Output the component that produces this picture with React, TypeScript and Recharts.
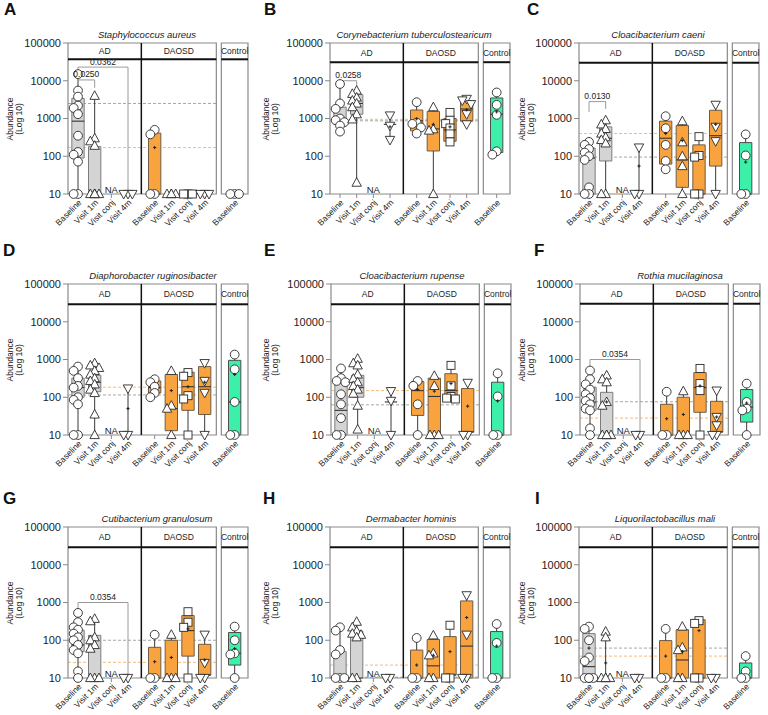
import React from 'react';
import { ComposedChart, XAxis, YAxis, Scatter, ReferenceArea, ReferenceLine } from 'recharts';

const FONT = '"Liberation Sans", Arial, Helvetica, sans-serif';

// ---------- labels ----------
const categories = ['Baseline', 'Visit 1m', 'Visit conj', 'Visit 4m', 'Baseline', 'Visit 1m', 'Visit conj', 'Visit 4m', 'Baseline'];
const groupLabels = ['AD', 'DAOSD', 'Control'];
const groupLabelsC = ['AD', 'DOASD', 'Control'];
const yTicks = [10, 100, 1000, 10000, 100000];
const letters = ['A', 'B', 'C', 'D', 'E', 'F', 'G', 'H', 'I'];
const titles = [
  'Staphylococcus aureus',
  'Corynebacterium tuberculostearicum',
  'Cloacibacterium caeni',
  'Diaphorobacter ruginosibacter',
  'Cloacibacterium rupense',
  'Rothia mucilaginosa',
  'Cutibacterium granulosum',
  'Dermabacter hominis',
  'Liquorilactobacillus mali',
];
const naLabel = 'NA';
const yLabel1 = 'Abundance';
const yLabel2 = '(Log 10)';

type Box = [number, number | null, number | null, number | null, number] | null;
type Bracket = [number, number, number, number, number, string];

// ---------- panel A ----------
const ptsA: number[][] = [
  [15000, 5500, 3800, 2200, 1900, 1300, 350, 130, 110, 72, 10, 10],
  [4000, 300, 250, 190, 10, 10, 10, 10, 10],
  [],
  [10, 10, 10],
  [500, 380, 10, 10],
  [10, 10, 10, 10],
  [10, 10, 10],
  [10, 10, 10],
  [10, 10, 10],
];
const boxA: Box[] = [
  [10, 90, 850, 3400, 15000],
  [10, 10, 10, 180, 4000],
  null, null,
  [10, 10, 10, 410, 500],
  null, null, null, null,
];
const meanA = [null, null, null, null, 170, null, null, null, null];
const refA = [2500, 170];
const brkA: Bracket[] = [[0, 1, 10500, 10500, 6500, '0.0250'], [0, 3, 23000, 16000, 11, '0.0362']];

// ---------- panel B ----------
const ptsB: number[][] = [
  [8200, 2500, 1800, 1000, 900, 800, 650, 450],
  [5500, 4500, 3600, 3000, 2500, 2000, 1300, 950, 20],
  [],
  [1200, 640, 270],
  [2700, 780, 720, 580, 400],
  [2000, 520, 480, 10],
  [1450, 900, 730, 560, 390, 240],
  [3300, 3000, 2400, 1300, 700],
  [4900, 2300, 1250, 135, 110],
];
const boxB: Box[] = [
  [450, 700, 1000, 2000, 8200],
  [20, 1300, 2500, 4300, 5500],
  null,
  [270, null, 700, null, 1200],
  [400, 470, 870, 1680, 2700],
  [10, 138, 530, 1540, 2000],
  [240, 250, 500, 1000, 1450],
  [700, 850, 1780, 2950, 3300],
  [110, 125, 1300, 3500, 4900],
];
const meanB = [null, null, null, 600, 980, 700, 600, 1700, 1500];
const refB = [870, 950];
const brkB: Bracket[] = [[0, 1, 10000, 8500, 6500, '0.0258']];

// ---------- panel C ----------
const ptsC: number[][] = [
  [240, 200, 155, 125, 100, 80, 15, 10, 10],
  [900, 700, 530, 400, 320, 270, 220, 10, 10],
  [],
  [170, 10, 10],
  [1150, 550, 200, 75, 45],
  [850, 235, 100, 55, 10],
  [330, 105, 95, 10, 10],
  [2300, 600, 250, 10],
  [380, 105, 10, 10],
];
const boxC: Box[] = [
  [10, 10, 90, 165, 240],
  [10, 75, 300, 600, 900],
  null,
  [10, null, null, null, 170],
  [45, 62, 300, 850, 1150],
  [10, 15, 80, 650, 850],
  [10, 10, 10, 200, 330],
  [10, 55, 350, 1650, 2300],
  [10, 10, 10, 230, 380],
];
const meanC = [null, null, null, 55, 400, 260, null, 700, 70];
const refC = [95, 400];
const brkC: Bracket[] = [[0, 1, 2800, 1500, 1800, '0.0130']];

// ---------- panel D ----------
const ptsD: number[][] = [
  [650, 500, 320, 200, 180, 100, 85, 65, 10, 10],
  [800, 700, 600, 500, 400, 320, 270, 220, 160, 130, 35, 10],
  [],
  [170, 10, 10],
  [300, 250, 190, 130, 100],
  [500, 60, 50, 10],
  [450, 360, 110, 90, 10],
  [800, 270, 130, 10],
  [1350, 550, 75, 10, 10],
];
const boxD: Box[] = [
  [10, 100, 180, 320, 650],
  [10, 140, 250, 380, 800],
  null,
  [10, null, null, null, 170],
  [100, 130, 180, 270, 300],
  [10, 13, 50, 400, 500],
  [10, 45, 190, 460, 460],
  [10, 35, 190, 650, 800],
  [10, 10, 75, 950, 1350],
];
const meanD = [null, null, null, 50, null, 150, 190, 250, 400];
const refD = [115, 185];
const brkD: Bracket[] = [];

// ---------- panel E ----------
const ptsE: number[][] = [
  [580, 320, 270, 250, 120, 65, 28, 10, 10],
  [1050, 800, 700, 400, 310, 250, 200, 160, 125, 60, 14],
  [],
  [145, 80, 10],
  [270, 200, 65, 10],
  [370, 200, 10, 10, 10],
  [700, 200, 105, 95, 90],
  [240, 10, 10],
  [430, 105, 10, 10],
];
const boxE: Box[] = [
  [10, 10, 45, 260, 580],
  [14, 100, 180, 380, 1050],
  null,
  [10, null, 75, null, 145],
  [10, 33, 150, 260, 270],
  [10, 10, 105, 320, 370],
  [90, 90, 150, 420, 700],
  [10, 12, 12, 170, 240],
  [10, 10, 10, 250, 430],
];
const meanE = [null, null, null, null, 160, 145, 230, 58, 80];
const refE = [63, 150];
const brkE: Bracket[] = [];

// ---------- panel F ----------
const ptsF: number[][] = [
  [510, 300, 220, 160, 120, 95, 80, 65, 50, 45, 15, 10],
  [380, 300, 250, 75, 60, 10, 10, 10, 10],
  [],
  [10, 10],
  [140, 10, 10],
  [145, 10, 10, 10],
  [580, 230, 150, 10],
  [150, 30, 18, 10, 10],
  [230, 75, 50, 45, 10],
];
const boxF: Box[] = [
  [10, 45, 75, 185, 510],
  [10, 10, 10, 135, 380],
  null, null,
  [10, 10, 10, 65, 140],
  [10, 10, 10, 100, 145],
  [10, 40, 180, 450, 580],
  [10, 12, 12, 78, 150],
  [10, 22, 55, 160, 230],
];
const meanF = [null, 75, null, null, 27, 35, 200, 30, 70];
const refF = [76, 28];
const brkF: Bracket[] = [[0, 3, 1000, 650, 12, '0.0354']];

// ---------- panel G ----------
const ptsG: number[][] = [
  [530, 300, 220, 190, 150, 120, 100, 75, 55, 45, 15, 10],
  [370, 320, 120, 100, 75, 60, 10, 10, 10],
  [],
  [10, 10],
  [140, 10, 10],
  [140, 10, 10, 10],
  [570, 300, 220, 10],
  [140, 25, 10, 10],
  [230, 100, 45, 42, 10],
];
const boxG: Box[] = [
  [10, 50, 75, 185, 530],
  [10, 10, 10, 135, 370],
  null, null,
  [10, 10, 10, 65, 140],
  [10, 10, 10, 100, 140],
  [10, 38, 180, 450, 570],
  [10, 12, 12, 78, 140],
  [10, 22, 45, 160, 230],
];
const meanG = [null, null, null, null, 27, 35, 200, 30, 60];
const refG = [100, 26];
const brkG: Bracket[] = [[0, 3, 1000, 600, 12, '0.0354']];

// ---------- panel H ----------
const ptsH: number[][] = [
  [220, 180, 55, 42, 10, 10, 10],
  [310, 220, 175, 150, 140, 120, 10, 10],
  [],
  [10, 10],
  [115, 10, 10],
  [135, 45, 40, 10, 10],
  [250, 10, 10],
  [1550, 140, 10, 10],
  [270, 85, 10, 10],
];
const boxH: Box[] = [
  [10, 10, 10, 50, 220],
  [10, 10, 10, 175, 310],
  null, null,
  [10, 10, 10, 55, 115],
  [10, 10, 21, 105, 135],
  [10, 12, 12, 125, 250],
  [10, 10, 70, 1100, 1550],
  [10, 10, 10, 170, 270],
];
const meanH = [null, null, null, null, 22, 40, 50, 400, 70];
const refH = [10.5, 22];
const brkH: Bracket[] = [];

// ---------- panel I ----------
const ptsI: number[][] = [
  [230, 200, 100, 35, 28, 10, 10, 10, 10],
  [170, 120, 10, 10, 10, 10],
  [],
  [10, 10],
  [200, 10, 10],
  [230, 65, 55, 10, 10],
  [330, 280, 10, 10],
  [10, 10],
  [38, 15, 10, 10],
];
const boxI: Box[] = [
  [10, 10, 20, 150, 230],
  [10, null, null, null, 170],
  null, null,
  [10, 10, 10, 98, 200],
  [10, 10, 30, 190, 230],
  [10, 10, 10, 350, 350],
  null,
  [10, 10, 10, 25, 38],
];
const meanI = [62, 25, null, null, 38, 50, 180, null, null];
const refI = [62, 38];
const brkI: Bracket[] = [];

const panels = [
  { pts: ptsA, box: boxA, mean: meanA, ref: refA, brk: brkA },
  { pts: ptsB, box: boxB, mean: meanB, ref: refB, brk: brkB },
  { pts: ptsC, box: boxC, mean: meanC, ref: refC, brk: brkC },
  { pts: ptsD, box: boxD, mean: meanD, ref: refD, brk: brkD },
  { pts: ptsE, box: boxE, mean: meanE, ref: refE, brk: brkE },
  { pts: ptsF, box: boxF, mean: meanF, ref: refF, brk: brkF },
  { pts: ptsG, box: boxG, mean: meanG, ref: refG, brk: brkG },
  { pts: ptsH, box: boxH, mean: meanH, ref: refH, brk: brkH },
  { pts: ptsI, box: boxI, mean: meanI, ref: refI, brk: brkI },
];

// ---------- layout (positions / styles) ----------
const catX = [0.6, 1.6, 2.6, 3.6, 5.2, 6.2, 7.2, 8.2, 10.0];
const X_MAX = 10.8;
const AD_RIGHT = 4.4;
const DA_RIGHT = 8.9;
const CTRL_LEFT = 9.2;
const BOX_HALF = 0.37;
const PLOT_W = 180;
const PLOT_H = 151;
const CHART_H = 240;
const XAXIS_H = 36;
const rowTop = [0, 240, 475];
const rowPlotTop = [43, 44, 52];
const rowTitleY = [34, 275, 518];
const rowLetterY = [1, 242, 490];
const layout = [
  { col: 0, row: 0, left: 68, titleCx: 147, strip: 37000, letterX: 4 },
  { col: 1, row: 0, left: 74, titleCx: 158, strip: 31000, letterX: 8 },
  { col: 2, row: 0, left: 67, titleCx: 146, strip: 30000, letterX: 15 },
  { col: 0, row: 1, left: 68, titleCx: 153, strip: 29000, letterX: 3 },
  { col: 1, row: 1, left: 75, titleCx: 156, strip: 29000, letterX: 8 },
  { col: 2, row: 1, left: 68, titleCx: 168, strip: 30000, letterX: 22 },
  { col: 0, row: 2, left: 68, titleCx: 157, strip: 29000, letterX: 3 },
  { col: 1, row: 2, left: 74, titleCx: 155, strip: 29000, letterX: 7 },
  { col: 2, row: 2, left: 67, titleCx: 153, strip: 29000, letterX: 23 },
];
const fills = ['#d4d4d4', '#f9a33f', '#3df0a9'];
const strokes = ['#7c7c7c', '#6e5b45', '#4d4d4d'];
const groupOf = (i: number) => (i < 4 ? 0 : i < 8 ? 1 : 2);
const shapeOf = ['circle', 'up', 'square', 'down', 'circle', 'up', 'square', 'down', 'circle'];

// beeswarm-like horizontal spread (layout only)
function spread(values: number[]): number[] {
  const placed: { lv: number; dx: number }[] = [];
  const cands = [0, -0.26, 0.26, -0.13, 0.13, -0.39, 0.39];
  return values.map((v) => {
    const lv = Math.log10(v);
    for (const dx of cands) {
      if (placed.every((p) => Math.abs(p.lv - lv) > 0.15 || Math.abs(p.dx - dx) > 0.24)) {
        placed.push({ lv, dx });
        return dx;
      }
    }
    placed.push({ lv, dx: 0 });
    return 0;
  });
}

const PT_STROKE = '#2a2a2a';
function makeShape(kind: string) {
  return (p: any) => {
    const { cx, cy } = p;
    if (cx == null || cy == null) return <g />;
    if (kind === 'circle') return <circle cx={cx} cy={cy} r={4.4} fill="#fff" stroke={PT_STROKE} strokeWidth={0.9} />;
    if (kind === 'square') return <rect x={cx - 4} y={cy - 4} width={8} height={8} fill="#fff" stroke={PT_STROKE} strokeWidth={0.9} />;
    if (kind === 'up')
      return <polygon points={`${cx},${cy - 5} ${cx - 4.7},${cy + 3.6} ${cx + 4.7},${cy + 3.6}`} fill="#fff" stroke={PT_STROKE} strokeWidth={0.9} />;
    return <polygon points={`${cx},${cy + 5} ${cx - 4.7},${cy - 3.6} ${cx + 4.7},${cy - 3.6}`} fill="#fff" stroke={PT_STROKE} strokeWidth={0.9} />;
  };
}
const meanShape = (p: any) => (
  <path d={`M${p.cx - 1.6},${p.cy}h3.2M${p.cx},${p.cy - 1.6}v3.2`} stroke="#222" strokeWidth={1} />
);
const textShape = (size: number, dy: number) => (p: any) => (
  <text x={p.cx} y={p.cy + dy} textAnchor="middle" fontSize={size} fontFamily={FONT} fill="#222" stroke="none">
    {p.payload.label}
  </text>
);

const XTick = (props: any) => {
  const { x, y, payload } = props;
  const idx = catX.indexOf(payload.value);
  const label = idx >= 0 ? categories[idx] : '';
  return (
    <g transform={`translate(${x + 2},${y + 1}) rotate(-45)`}>
      <text x={0} y={0} dy="0.35em" textAnchor="end" fontSize={8.5} fontFamily={FONT} fill="#222">
        {label}
      </text>
    </g>
  );
};

function Panel({ idx }: { idx: number }) {
  const cfg = layout[idx];
  const d = panels[idx];
  const T = rowPlotTop[cfg.row];
  const L = cfg.left;
  const glabels = idx === 2 ? groupLabelsC : groupLabels;
  const strip = cfg.strip;
  const lab = { fontSize: 8.5, fill: '#222', fontFamily: FONT } as any;

  const areas: React.ReactNode[] = [];
  const lines: React.ReactNode[] = [];

  // strips
  areas.push(
    <ReferenceArea key="sAD" x1={0} x2={AD_RIGHT} y1={strip} y2={100000} fill="#fff" fillOpacity={1} stroke="none" ifOverflow="visible" zIndex={100}
      label={{ value: glabels[0], position: 'center', ...lab }} />,
    <ReferenceArea key="sDA" x1={AD_RIGHT} x2={DA_RIGHT} y1={strip} y2={100000} fill="#fff" fillOpacity={1} stroke="none" ifOverflow="visible" zIndex={100}
      label={{ value: glabels[1], position: 'center', ...lab }} />,
    <ReferenceArea key="sCT" x1={CTRL_LEFT} x2={X_MAX} y1={strip} y2={100000} fill="#fff" fillOpacity={1} stroke="none" ifOverflow="visible" zIndex={100}
      label={{ value: glabels[2], position: 'center', ...lab }} />
  );

  // dashed reference levels
  const dashed = [
    <ReferenceLine key="dg" segment={[{ x: 0, y: d.ref[0] }, { x: DA_RIGHT, y: d.ref[0] }]} stroke="#9c9c9c" strokeDasharray="3 2" strokeWidth={0.9} ifOverflow="visible" zIndex={50} />,
    <ReferenceLine key="do" segment={[{ x: 0, y: d.ref[1] }, { x: DA_RIGHT, y: d.ref[1] }]} stroke="#f7b26a" strokeDasharray="3 2" strokeWidth={0.9} ifOverflow="visible" zIndex={50} />,
  ];

  // boxes, whiskers, medians
  d.box.forEach((b, i) => {
    if (!b) return;
    const [mn, q1, med, q3, mx] = b;
    const x = catX[i];
    const g = groupOf(i);
    const hasBox = q1 != null && q3 != null && q3 > q1;
    if (hasBox) {
      areas.push(
        <ReferenceArea key={`b${i}`} x1={x - BOX_HALF} x2={x + BOX_HALF} y1={q1 as number} y2={q3 as number} fill={fills[g]} fillOpacity={1}
          stroke={strokes[g]} strokeWidth={1} ifOverflow="visible" zIndex={100} />
      );
      if (mn < (q1 as number))
        lines.push(<ReferenceLine key={`wl${i}`} segment={[{ x, y: mn }, { x, y: q1 as number }]} stroke="#3a3a3a" strokeWidth={1} ifOverflow="visible" zIndex={400} />);
      if (mx > (q3 as number))
        lines.push(<ReferenceLine key={`wh${i}`} segment={[{ x, y: q3 as number }, { x, y: mx }]} stroke="#3a3a3a" strokeWidth={1} ifOverflow="visible" zIndex={400} />);
    } else if (mx > mn) {
      lines.push(<ReferenceLine key={`w${i}`} segment={[{ x, y: mn }, { x, y: mx }]} stroke="#3a3a3a" strokeWidth={1} ifOverflow="visible" zIndex={400} />);
    }
    if (med != null && (hasBox || q1 == null)) {
      lines.push(
        <ReferenceLine key={`m${i}`} segment={[{ x: x - BOX_HALF, y: med }, { x: x + BOX_HALF, y: med }]} stroke="#333" strokeWidth={1.1} ifOverflow="visible" zIndex={400} />
      );
    }
  });

  // brackets
  const bracketTexts: { x: number; y: number; label: string }[] = [];
  d.brk.forEach((br, k) => {
    const [a, b, y, yl, yr, label] = br;
    const xa = catX[a];
    const xb = catX[b];
    lines.push(
      <ReferenceLine key={`bh${k}`} segment={[{ x: xa, y }, { x: xb, y }]} stroke="#9a9a9a" strokeWidth={1} ifOverflow="visible" zIndex={400} />,
      <ReferenceLine key={`bl${k}`} segment={[{ x: xa, y }, { x: xa, y: yl }]} stroke="#9a9a9a" strokeWidth={1} ifOverflow="visible" zIndex={400} />,
      <ReferenceLine key={`br${k}`} segment={[{ x: xb, y }, { x: xb, y: yr }]} stroke="#9a9a9a" strokeWidth={1} ifOverflow="visible" zIndex={400} />
    );
    bracketTexts.push({ x: (xa + xb) / 2, y, label });
  });

  // frame lines
  const frame = [
    <ReferenceArea key="f1" x1={0} x2={DA_RIGHT} y1={10} y2={100000} fill="none" stroke="#8a8a8a" strokeWidth={1.2} ifOverflow="visible" zIndex={450} />,
    <ReferenceArea key="f2" x1={CTRL_LEFT} x2={X_MAX} y1={10} y2={100000} fill="none" stroke="#8a8a8a" strokeWidth={1.2} ifOverflow="visible" zIndex={450} />,
    <ReferenceLine key="sl1" segment={[{ x: 0, y: strip }, { x: DA_RIGHT, y: strip }]} stroke="#111" strokeWidth={2} ifOverflow="visible" zIndex={460} />,
    <ReferenceLine key="sl2" segment={[{ x: CTRL_LEFT, y: strip }, { x: X_MAX, y: strip }]} stroke="#111" strokeWidth={2} ifOverflow="visible" zIndex={460} />,
    <ReferenceLine key="div" segment={[{ x: AD_RIGHT, y: 10 }, { x: AD_RIGHT, y: 100000 }]} stroke="#111" strokeWidth={1.5} ifOverflow="visible" zIndex={460} />,
  ];

  const scatters = d.pts.map((vals, i) => {
    if (!vals.length) return null;
    const offs = spread(vals);
    const data = vals.map((v, j) => ({ x: catX[i] + offs[j], y: v }));
    return <Scatter key={`p${i}`} data={data} dataKey="y" shape={makeShape(shapeOf[i])} isAnimationActive={false} zIndex={600} />;
  });

  const meanData = d.mean
    .map((m, i) => (m == null ? null : { x: catX[i], y: m }))
    .filter((v) => v != null) as { x: number; y: number }[];

  const naData = [{ x: catX[2], y: 13.5, label: naLabel }];

  return (
    <ComposedChart
      width={256}
      height={CHART_H}
      margin={{ top: T, right: 256 - L - PLOT_W, bottom: CHART_H - T - PLOT_H - XAXIS_H, left: 0 }}
    >
      <XAxis type="number" dataKey="x" domain={[0, X_MAX]} ticks={catX} interval={0} tick={<XTick />} tickLine={{ stroke: '#888' }}
        tickSize={4} axisLine={false} height={XAXIS_H} />
      <YAxis type="number" dataKey="y" scale="log" domain={[10, 100000]} ticks={yTicks} interval={0} width={L}
        tick={{ fontSize: 11, fill: '#222', fontFamily: FONT }} tickLine={{ stroke: '#888' }} tickSize={5} axisLine={false}
        tickFormatter={(v: number) => String(v)} />
      {areas.slice(0, 3)}
      {dashed}
      {areas.slice(3)}
      {lines}
      {frame}
      {scatters}
      {meanData.length > 0 && <Scatter data={meanData} dataKey="y" shape={meanShape} isAnimationActive={false} zIndex={650} />}
      <Scatter data={naData} dataKey="y" shape={textShape(9.5, 3.5)} isAnimationActive={false} zIndex={700} />
      {bracketTexts.length > 0 && <Scatter data={bracketTexts} dataKey="y" shape={textShape(8.5, -2.5)} isAnimationActive={false} zIndex={700} />}
    </ComposedChart>
  );
}

export default function App() {
  return (
    <div style={{ position: 'absolute', left: 0, top: 0, width: 768, height: 715, background: '#fff', fontFamily: FONT, overflow: 'hidden' }}>
      {layout.map((cfg, i) => {
        const px = cfg.col * 256;
        const py = rowTop[cfg.row];
        const plotTop = rowPlotTop[cfg.row];
        return (
          <React.Fragment key={i}>
            <div style={{ position: 'absolute', left: px, top: py, width: 256, height: CHART_H }}>
              <Panel idx={i} />
            </div>
            <div style={{ position: 'absolute', left: px + cfg.letterX, top: rowLetterY[cfg.row], fontSize: 17, fontWeight: 'bold', lineHeight: '17px', color: '#111' }}>
              {letters[i]}
            </div>
            <div style={{ position: 'absolute', left: px + cfg.titleCx, top: rowTitleY[cfg.row], transform: 'translate(-50%, -50%)', fontSize: 9.5, fontStyle: 'italic', whiteSpace: 'nowrap', color: '#222' }}>
              {titles[i]}
            </div>
            <div style={{ position: 'absolute', left: px + 15, top: py + plotTop + PLOT_H / 2, transform: 'translate(-50%, -50%) rotate(-90deg)', fontSize: 8.5, lineHeight: '9px', textAlign: 'center', whiteSpace: 'nowrap', color: '#222' }}>
              {yLabel1}
              <br />
              {yLabel2}
            </div>
          </React.Fragment>
        );
      })}
    </div>
  );
}
